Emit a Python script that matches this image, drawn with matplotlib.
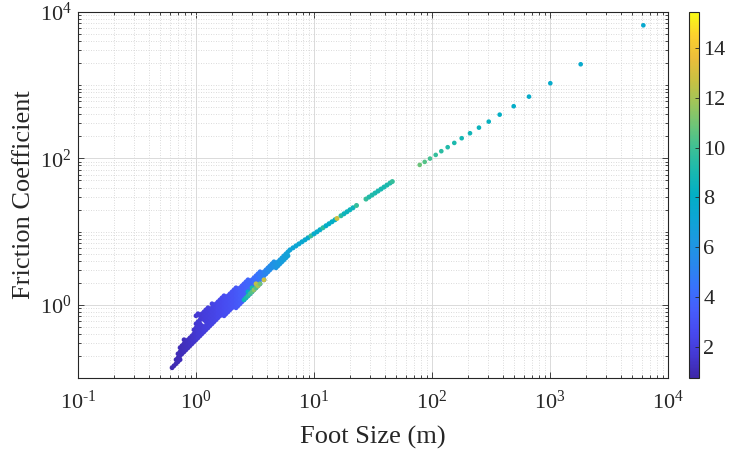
import numpy as np
import matplotlib
matplotlib.use("Agg")
import matplotlib.pyplot as plt
from matplotlib.colors import LinearSegmentedColormap, Normalize
from matplotlib.ticker import FixedLocator, LogLocator, FuncFormatter, NullFormatter

plt.rcParams['font.family'] = 'serif'
plt.rcParams['font.serif'] = ['Liberation Serif', 'DejaVu Serif']
plt.rcParams['mathtext.fontset'] = 'custom'
plt.rcParams['mathtext.rm'] = 'Liberation Serif'
plt.rcParams['mathtext.it'] = 'Liberation Serif:italic'
plt.rcParams['mathtext.bf'] = 'Liberation Serif:bold'

# ---------------------------------------------------------------- data
# dense low-size cloud: one foot size per column, several friction values each
blob_size = [0.627, 0.651, 0.678, 0.704, 0.733, 0.761, 0.792, 0.823, 0.857,
             0.890, 0.926, 0.962, 1.001, 1.040, 1.082, 1.124, 1.170, 1.215,
             1.265, 1.314, 1.368, 1.420, 1.479, 1.536, 1.599, 1.661, 1.728,
             1.796, 1.868, 1.941, 2.020, 2.099, 2.184, 2.269, 2.361, 2.453,
             2.552, 2.653, 2.759, 2.868, 2.983, 3.101, 3.225, 3.352, 3.487,
             3.625, 3.769, 3.919, 4.075, 4.237, 4.406, 4.581, 4.763, 4.953,
             5.149, 5.355, 5.567, 5.789, 6.018]
blob_friction = [
    [0.138],
    [0.147],
    [0.157, 0.178],
    [0.167, 0.189, 0.214],
    [0.178, 0.201, 0.228, 0.259],
    [0.214, 0.243, 0.276],
    [0.228, 0.259, 0.294, 0.333],
    [0.243, 0.276, 0.313],
    [0.259, 0.294, 0.333],
    [0.276, 0.313, 0.354],
    [0.294, 0.333, 0.377],
    [0.313, 0.354, 0.402, 0.456],
    [0.333, 0.377, 0.428, 0.485, 0.550, 0.708],
    [0.354, 0.402, 0.456, 0.517, 0.586, 0.754],
    [0.377, 0.428, 0.485, 0.550, 0.624, 0.708],
    [0.402, 0.456, 0.517, 0.665, 0.754],
    [0.428, 0.485, 0.624, 0.708, 0.802],
    [0.456, 0.517, 0.586, 0.665, 0.754, 0.855],
    [0.485, 0.550, 0.624, 0.708, 0.802, 0.910],
    [0.517, 0.586, 0.665, 0.754, 0.855],
    [0.550, 0.624, 0.708, 0.802, 0.910, 1.032],
    [0.586, 0.665, 0.754, 0.855, 0.969],
    [0.624, 0.708, 0.802, 0.910, 1.032],
    [0.665, 0.754, 0.855, 0.969, 1.099],
    [0.708, 0.802, 0.910, 1.032, 1.170],
    [0.754, 0.855, 0.969, 1.099, 1.246],
    [0.708, 0.802, 0.910, 1.032, 1.170, 1.327],
    [0.754, 0.855, 0.969, 1.099, 1.246],
    [0.802, 0.910, 1.032, 1.170, 1.327],
    [0.855, 0.969, 1.099, 1.246, 1.413],
    [0.910, 1.032, 1.170, 1.327, 1.504],
    [0.969, 1.099, 1.246, 1.413, 1.602],
    [0.910, 1.032, 1.170, 1.327, 1.504, 1.706],
    [0.969, 1.099, 1.246, 1.413, 1.602],
    [1.032, 1.170, 1.327, 1.504, 1.706],
    [1.099, 1.246, 1.413, 1.602, 1.817],
    [1.170, 1.327, 1.504, 1.706, 1.935],
    [1.246, 1.413, 1.602, 1.817, 2.061],
    [1.327, 1.504, 1.706, 1.935, 2.194],
    [1.413, 1.602, 1.817, 2.061],
    [1.504, 1.706, 1.935, 2.194],
    [1.602, 1.817, 2.061, 2.337],
    [1.706, 1.935, 2.194, 2.488],
    [1.817, 2.061, 2.337, 2.650],
    [1.935, 2.194, 2.488, 2.822],
    [2.337, 2.650],
    [2.194, 2.488, 2.822],
    [2.650, 3.005],
    [2.822, 3.20],
    [3.005, 3.408],
    [3.20, 3.63],
    [3.408, 3.865],
    [3.20, 3.63],
    [3.408, 3.865],
    [3.63, 4.11],
    [3.865, 4.382],
    [4.11, 4.67],
    [4.382, 4.969],
    [4.67, 5.29],
]
blob_index = [0.90, 0.95, 1.00, 1.05, 1.10, 1.15, 1.20, 1.25, 1.30, 1.37,
              1.45, 1.52, 1.60, 1.67, 1.75, 1.82, 1.90, 1.97, 2.05, 2.12,
              2.20, 2.27, 2.35, 2.42, 2.50, 2.57, 2.65, 2.72, 2.80, 2.90,
              3.00, 3.10, 3.20, 3.30, 3.40, 3.50, 3.60, 3.70, 3.80, 3.90,
              4.00, 4.15, 4.30, 4.45, 4.60, 4.80, 5.00, 5.20, 5.40, 5.60,
              5.80, 5.95, 6.10, 6.25, 6.40, 6.55, 6.70, 6.80, 6.90]

# high-index points along the lower edge of the cloud
edge_size = [2.552, 2.653, 2.759, 2.759, 2.868, 2.983, 2.983, 3.101, 3.225,
             3.225, 3.352, 3.487, 3.769]
edge_friction = [1.170, 1.246, 1.327, 1.504, 1.413, 1.504, 1.706, 1.602,
                 1.706, 1.935, 1.817, 1.935, 2.194]
edge_index = [8.5, 9.0, 9.5, 8.0, 10.0, 10.5, 9.0, 11.5, 10.5, 12.5, 12.0,
              11.0, 12.8]

# narrow ridge between roughly 6 m and 46 m
ridge_size = [6.26, 6.64, 7.04, 7.46, 7.91, 8.39, 8.90, 9.43, 10.0, 10.60,
              11.24, 11.92, 12.64, 13.40, 14.21, 15.07, 15.66, 16.93, 17.96,
              19.04, 20.19, 21.41, 22.92, 27.59, 29.25, 31.01, 32.88, 34.87,
              36.97, 39.20, 41.56, 44.07, 46.09]
ridge_friction = [5.63, 6.00, 6.39, 6.80, 7.25, 7.72, 8.22, 8.75, 9.32, 9.92,
                  10.60, 11.29, 12.02, 12.80, 13.63, 14.51, 15.12, 16.46,
                  17.52, 18.66, 19.88, 21.17, 22.75, 27.82, 29.63, 31.55,
                  33.60, 35.78, 38.10, 40.58, 43.21, 46.01, 48.24]
ridge_index = [7.0, 7.1, 7.2, 7.3, 7.4, 7.5, 7.6, 9.8, 7.7, 7.8, 7.8, 9.5,
               7.9, 8.0, 8.0, 8.1, 12.8, 9.5, 8.6, 8.5, 8.5, 8.6, 9.8, 9.8,
               9.3, 9.2, 9.1, 9.0, 9.0, 9.0, 9.1, 9.2, 9.8]

# sparse large feet
tail_size = [78.7, 86.7, 96.2, 107.5, 119.9, 135.8, 154.5, 178.5, 209.9,
             250.0, 302.6, 374.7, 492.5, 663.7, 1006.0, 1820.0, 6180.0]
tail_friction = [81.5, 89.6, 99.4, 111.6, 125.4, 142.2, 162.8, 188.7, 220.8,
                 263.2, 318.0, 396.0, 516.0, 698.0, 1064.0, 1932.0, 6580.0]
tail_index = [10.8, 10.4, 10.1, 9.8, 9.5, 9.3, 9.1, 8.9, 8.7, 8.5, 8.3, 8.1,
              7.9, 7.8, 7.7, 7.6, 7.5]

colorbar_ticks = [2, 4, 6, 8, 10, 12, 14]
color_limits = (0.75, 15.45)

# ---------------------------------------------------------------- colormap
parula_anchors = [
    (0.2422, 0.1504, 0.6603), (0.2670, 0.2232, 0.8310), (0.2810, 0.2901, 0.9396),
    (0.2722, 0.3677, 0.9848), (0.2177, 0.4513, 0.9917), (0.1555, 0.5380, 0.9278),
    (0.1099, 0.5981, 0.8797), (0.0486, 0.6484, 0.8327), (0.0079, 0.6857, 0.7731),
    (0.0955, 0.7212, 0.6884), (0.2262, 0.7506, 0.5928), (0.4176, 0.7707, 0.4763),
    (0.6160, 0.7697, 0.3578), (0.7837, 0.7560, 0.2614), (0.9209, 0.7444, 0.2288),
    (0.9904, 0.8203, 0.1801), (0.9769, 0.9839, 0.0805),
]
parula = LinearSegmentedColormap.from_list("parula", parula_anchors, N=256)
norm = Normalize(*color_limits)


def decade_label(value, pos):
    exp = int(round(np.log10(value)))
    sign = r'\text{-}' if exp < 0 else ''
    return r'$\mathdefault{10^{%s%d}}$' % (sign, abs(exp))


# ---------------------------------------------------------------- figure
fig = plt.figure(figsize=(7.3, 4.54), dpi=100)
ax = fig.add_axes([78 / 730, 76 / 454, 590 / 730, 366 / 454])
cax = fig.add_axes([689 / 730, 76 / 454, 10 / 730, 366 / 454])

ink = '#262626'

bx = np.concatenate([np.full(len(f), s) for s, f in zip(blob_size, blob_friction)])
by = np.concatenate([np.asarray(f, float) for f in blob_friction])
bc = np.concatenate([np.full(len(f), c) for c, f in zip(blob_index, blob_friction)])

ax.scatter(bx, by, c=bc, cmap=parula, norm=norm, s=12, linewidths=0, zorder=3)
ax.scatter(edge_size, edge_friction, c=edge_index, cmap=parula, norm=norm,
           s=12, linewidths=0, zorder=3)
ax.scatter(ridge_size, ridge_friction, c=ridge_index, cmap=parula, norm=norm,
           s=13, linewidths=0, zorder=3)
sc = ax.scatter(tail_size, tail_friction, c=tail_index, cmap=parula, norm=norm,
                s=11, linewidths=0, zorder=3)

ax.set_xscale('log')
ax.set_yscale('log')
ax.set_xlim(0.1, 1e4)
ax.set_ylim(0.1, 1e4)

ax.xaxis.set_major_locator(FixedLocator([0.1, 1, 10, 100, 1000, 10000]))
ax.xaxis.set_minor_locator(LogLocator(base=10, subs=np.arange(2, 10), numticks=100))
ax.yaxis.set_major_locator(FixedLocator([1, 100, 10000]))
ax.yaxis.set_minor_locator(LogLocator(base=10, subs=np.arange(1, 10), numticks=100))
ax.xaxis.set_major_formatter(FuncFormatter(decade_label))
ax.yaxis.set_major_formatter(FuncFormatter(decade_label))
ax.xaxis.set_minor_formatter(NullFormatter())
ax.yaxis.set_minor_formatter(NullFormatter())

ax.grid(True, which='major', color='#dadada', linewidth=0.7, linestyle='-', zorder=0)
ax.grid(True, which='minor', color='#cfcfcf', linewidth=0.6, linestyle=(0, (1, 2)), zorder=0)
ax.set_axisbelow(True)

ax.tick_params(which='both', direction='in', top=True, right=True,
               color=ink, labelcolor=ink, width=0.6)
ax.tick_params(which='major', length=4)
ax.tick_params(which='minor', length=2.5)
ax.tick_params(axis='x', which='major', labelsize=16, pad=9)
ax.tick_params(axis='y', which='major', labelsize=16, pad=4.5)
for sp in ax.spines.values():
    sp.set_color(ink)
    sp.set_linewidth(0.8)

ax.set_xlabel('Foot Size (m)', fontsize=19, color=ink)
ax.set_ylabel('Friction Coefficient', fontsize=19, color=ink)
ax.xaxis.set_label_coords(0.5, -0.132)
ax.yaxis.set_label_coords(-0.073, 0.5)

cb = fig.colorbar(sc, cax=cax)
cb.set_ticks(colorbar_ticks)
cax.tick_params(direction='in', length=3, width=0.6, labelsize=16, pad=3,
                color=ink, labelcolor=ink)
cb.outline.set_edgecolor(ink)
cb.outline.set_linewidth(0.8)

fig.savefig('out.png', dpi=100)
